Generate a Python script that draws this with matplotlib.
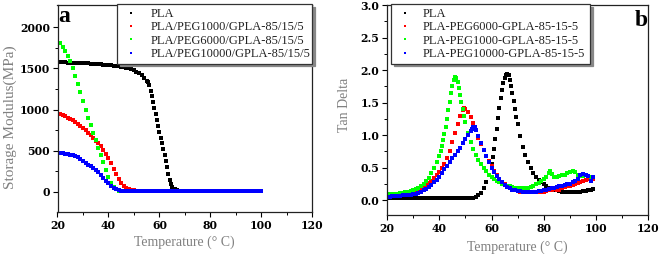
import matplotlib
matplotlib.use("Agg")
import matplotlib.pyplot as plt
import numpy as np

# ---------------- Panel a: storage modulus ----------------
T_pla_a = [20, 21, 22, 23, 24, 25, 26, 27, 28, 29, 30, 31, 32, 33, 34, 35, 36, 37, 38, 39,
           40, 41, 42, 43, 44, 45, 46, 47, 48, 49, 50, 51, 52, 53, 54, 55, 55.5, 56, 56.5, 57,
           57.5, 58, 58.5, 59, 59.5, 60, 60.5, 61, 61.5, 62, 62.5, 63, 63.5, 64, 64.5, 65, 65.5,
           66, 67, 68, 69, 70, 71, 72, 73, 74, 75, 76, 77, 78, 79, 80, 81, 82, 83, 84, 85, 86,
           87, 88, 89, 90, 91, 92, 93, 94, 95, 96, 97, 98, 99, 100]
E_pla = [1575, 1574, 1573, 1572, 1571, 1570, 1569, 1568, 1567, 1566, 1565, 1563, 1561, 1559,
         1557, 1555, 1552, 1549, 1546, 1543, 1540, 1536, 1532, 1528, 1524, 1520, 1514, 1508,
         1500, 1490, 1478, 1462, 1442, 1415, 1385, 1350, 1330, 1300, 1230, 1160, 1090, 1020,
         945, 870, 800, 730, 660, 590, 520, 450, 380, 300, 220, 150, 95, 60, 42, 32, 24, 18,
         14, 12, 11, 10, 10, 10, 9, 9, 9, 9, 9, 9, 9, 9, 9, 9, 9, 9, 9, 9, 9, 9, 9, 9, 9, 9,
         9, 9, 9, 9, 9, 9]

T_a = list(range(20, 101))
E_peg1000 = [957, 945, 932, 918, 903, 887, 868, 848, 826, 802, 776, 748, 718, 686, 655, 623,
             590, 555, 515, 465, 410, 350, 285, 220, 160, 112, 75, 50, 35, 25, 20, 16, 14, 13,
             12, 12, 11, 11, 11, 11, 10, 10, 10, 10, 10, 10, 10, 10, 10, 10, 10, 10, 10, 10,
             10, 10, 10, 10, 10, 10, 10, 10, 10, 10, 10, 10, 10, 10, 10, 10, 10, 10, 10, 10,
             10, 10, 10, 10, 10, 10, 10]
E_peg6000 = [1860, 1810, 1760, 1710, 1650, 1590, 1500, 1410, 1310, 1210, 1110, 1000, 900, 810,
             720, 630, 540, 450, 360, 265, 180, 115, 65, 35, 18, 12, 9, 8, 8, 8, 8, 8, 8, 8, 8,
             8, 8, 8, 8, 8, 8, 8, 8, 8, 8, 8, 8, 8, 8, 8, 8, 8, 8, 8, 8, 8, 8, 8, 8, 8, 8, 8,
             8, 8, 8, 8, 8, 8, 8, 8, 8, 8, 8, 8, 8, 8, 8, 8, 8, 8, 8]
E_peg10000 = [475, 472, 468, 464, 460, 455, 448, 438, 425, 405, 380, 355, 330, 310, 290, 265,
              240, 205, 170, 135, 105, 75, 52, 35, 22, 15, 11, 8, 7, 6, 6, 6, 6, 6, 6, 6, 6,
              6, 6, 6, 6, 6, 6, 6, 6, 6, 6, 6, 6, 6, 6, 6, 6, 6, 6, 6, 6, 6, 6, 6, 6, 6, 6, 6,
              6, 6, 6, 6, 6, 6, 6, 6, 6, 6, 6, 6, 6, 6, 6, 6, 6]

labels_a = ["PLA", "PLA/PEG1000/GPLA-85/15/5", "PLA/PEG6000/GPLA-85/15/5",
            "PLA/PEG10000/GPLA-85/15/5"]

# ---------------- Panel b: tan delta ----------------
T_pla_b = list(range(20, 60)) + [60, 60.5, 61, 61.5, 62, 62.5, 63, 63.5, 64, 64.5, 65, 65.5,
                                 66, 66.5, 67, 67.5, 68, 68.5, 69, 69.5, 70] + list(range(71, 100))
tan_pla = [0.03] * 33 + [0.035, 0.045, 0.07, 0.11, 0.18, 0.27, 0.39] + \
          [0.55, 0.66, 0.79, 0.94, 1.10, 1.26, 1.42, 1.57, 1.70, 1.80, 1.87, 1.92, 1.94, 1.92,
           1.85, 1.76, 1.64, 1.52, 1.40, 1.28, 1.17] + \
          [0.98, 0.82, 0.69, 0.58, 0.49, 0.42, 0.36, 0.31, 0.27, 0.24, 0.21, 0.19, 0.17, 0.16,
           0.15, 0.14, 0.13, 0.125, 0.12, 0.12, 0.12, 0.125, 0.13, 0.13, 0.135, 0.14, 0.15,
           0.16, 0.17]

T_red_b = list(range(20, 50)) + [49.5] + list(range(50, 100))
tan_peg6000 = [0.07, 0.07, 0.075, 0.08, 0.085, 0.09, 0.095, 0.10, 0.11, 0.115, 0.12, 0.14,
               0.16, 0.18, 0.20, 0.23, 0.26, 0.30, 0.34, 0.38, 0.43, 0.49, 0.56, 0.65, 0.76,
               0.89, 1.03, 1.17, 1.29, 1.38, 1.41, 1.40, 1.36, 1.28, 1.18, 1.07, 0.96, 0.86,
               0.77, 0.68, 0.60, 0.52, 0.45, 0.39, 0.33, 0.28, 0.24, 0.21, 0.18, 0.165, 0.15,
               0.14, 0.13, 0.13, 0.125, 0.12, 0.12, 0.12, 0.12, 0.12, 0.125, 0.13, 0.14, 0.15,
               0.16, 0.17, 0.16, 0.15, 0.18, 0.20, 0.21, 0.22, 0.23, 0.24, 0.26, 0.28, 0.30,
               0.31, 0.32, 0.32, 0.33]

T_green_b = list(range(20, 40)) + [40, 40.5, 41, 41.5, 42, 42.5, 43, 43.5, 44, 44.5, 45, 45.5,
                                   46, 46.5, 47, 47.5, 48, 48.5, 49, 49.5, 50] + \
            list(range(51, 83)) + [82.5] + list(range(83, 100))
tan_peg1000 = [0.09, 0.09, 0.095, 0.10, 0.10, 0.105, 0.11, 0.12, 0.13, 0.14, 0.15, 0.17, 0.19,
               0.22, 0.25, 0.29, 0.34, 0.41, 0.49, 0.58] + \
              [0.68, 0.75, 0.83, 0.92, 1.02, 1.13, 1.25, 1.38, 1.51, 1.64, 1.76, 1.85, 1.89,
               1.88, 1.82, 1.73, 1.62, 1.51, 1.40, 1.30, 1.20] + \
              [1.03, 0.90, 0.79, 0.70, 0.62, 0.55, 0.49, 0.44, 0.39, 0.35, 0.32, 0.29, 0.27,
               0.25, 0.23, 0.22, 0.21, 0.20, 0.19, 0.185, 0.18, 0.18, 0.185, 0.19, 0.20, 0.22,
               0.24, 0.26, 0.29, 0.32, 0.36, 0.41] + [0.44] + \
              [0.40, 0.35, 0.36, 0.37, 0.38, 0.39, 0.41, 0.43, 0.45, 0.43, 0.38, 0.37, 0.37,
               0.38, 0.37, 0.36, 0.35]

T_blue_b = list(range(20, 53)) + [52.5, 53, 53.5] + list(range(54, 100))
tan_peg10000 = [0.05, 0.05, 0.055, 0.06, 0.06, 0.065, 0.07, 0.075, 0.08, 0.085, 0.09, 0.10,
                0.115, 0.13, 0.15, 0.17, 0.20, 0.23, 0.27, 0.31, 0.36, 0.41, 0.47, 0.53, 0.59,
                0.65, 0.70, 0.75, 0.80, 0.87, 0.94, 1.00, 1.06, 1.10, 1.13, 1.12, 1.07, 0.99,
                0.88, 0.77, 0.67, 0.58, 0.50, 0.43, 0.37, 0.32, 0.27, 0.23, 0.20, 0.18, 0.16,
                0.15, 0.14, 0.135, 0.13, 0.13, 0.13, 0.13, 0.13, 0.13, 0.135, 0.14, 0.15, 0.16,
                0.17, 0.18, 0.19, 0.20, 0.21, 0.22, 0.23, 0.24, 0.25, 0.27, 0.29, 0.33, 0.38,
                0.40, 0.39, 0.37, 0.30, 0.35]

labels_b = ["PLA", "PLA-PEG6000-GPLA-85-15-5", "PLA-PEG1000-GPLA-85-15-5",
            "PLA-PEG10000-GPLA-85-15-5"]

colors = ["#000000", "#ff0000", "#00ff00", "#0000ff"]

W, H = 661, 254
fig = plt.figure(figsize=(W / 100, H / 100), dpi=100)
fig.patch.set_facecolor("white")


def px(x0, y0, x1, y1):
    return [x0 / W, 1 - y1 / H, (x1 - x0) / W, (y1 - y0) / H]


tickfont = {"family": "DejaVu Serif", "weight": "bold", "size": 7.8}
labfont = {"family": "Liberation Serif", "color": "#808080"}


def style(ax):
    for s in ax.spines.values():
        s.set_linewidth(0.9)
        s.set_color("#222222")
    ax.tick_params(which="major", direction="out", length=3.5, width=0.8, top=False,
                   right=False, pad=2)
    ax.tick_params(which="minor", direction="out", length=2, width=0.7, top=False,
                   right=False)
    for lab in ax.get_xticklabels() + ax.get_yticklabels():
        lab.set_fontfamily(tickfont["family"])
        lab.set_fontweight(tickfont["weight"])
        lab.set_fontsize(tickfont["size"])


mk = dict(marker="s", ms=2.6, mew=0, linestyle="none")

# Panel a
axa = fig.add_axes(px(57.5, 5, 312.3, 212))
series_a = [(T_pla_a, E_pla), (T_a, E_peg1000), (T_a, E_peg6000), (T_a, E_peg10000)]
for (t, e), c, lab in zip(series_a, colors, labels_a):
    axa.plot(t, e, color=c, label=lab, **mk)
axa.set_xlim(20, 120)
axa.set_ylim(-243, 2270)
axa.set_xticks([20, 40, 60, 80, 100, 120])
axa.set_xticks([30, 50, 70, 90, 110], minor=True)
axa.set_yticks([0, 500, 1000, 1500, 2000])
axa.set_yticks([250, 750, 1250, 1750], minor=True)
style(axa)
lega = axa.legend(loc="upper left", bbox_to_anchor=(117 / W, 1 - 7 / H, (312.3 - 117) / W, 0.01),
                  bbox_transform=fig.transFigure, borderaxespad=0, mode="expand",
                  prop={"family": "Liberation Serif", "size": 9}, handlelength=1.6,
                  handletextpad=0.8, labelspacing=0.1, borderpad=0.3, markerscale=0.6,
                  fancybox=False, frameon=True, shadow={"color": "#888888", "alpha": 1},
                  numpoints=1)
lega.get_frame().set_edgecolor("#333333")
lega.get_frame().set_linewidth(0.9)
for t in lega.get_texts():
    t.set_color("#222222")

fig.text(10 / W, 1 - 117 / H, "Storage Modulus(MPa)", rotation=90, ha="center", va="center",
         fontsize=11, **labfont)
fig.text(184 / W, 1 - 242 / H, "Temperature (° C)", ha="center", va="center", fontsize=10,
         **labfont)
fig.text(58.5 / W, 1 - 22 / H, "a", ha="left", va="baseline", fontsize=17,
         family="Liberation Serif", weight="bold")

# Panel b
axb = fig.add_axes(px(387, 5, 648.3, 215))
series_b = [(T_pla_b, tan_pla), (T_red_b, tan_peg6000), (T_green_b, tan_peg1000),
            (T_blue_b, tan_peg10000)]
for (t, v), c, lab in zip(series_b, colors, labels_b):
    axb.plot(t, v, color=c, label=lab, **mk)
axb.set_xlim(20, 120)
axb.set_ylim(-0.23, 3.0)
axb.set_xticks([20, 40, 60, 80, 100, 120])
axb.set_xticks([30, 50, 70, 90, 110], minor=True)
axb.set_yticks([0.0, 0.5, 1.0, 1.5, 2.0, 2.5, 3.0])
axb.set_yticks([0.25, 0.75, 1.25, 1.75, 2.25, 2.75], minor=True)
axb.yaxis.set_major_formatter(matplotlib.ticker.FormatStrFormatter("%.1f"))
style(axb)
legb = axb.legend(loc="upper left", bbox_to_anchor=(391 / W, 1 - 7 / H, (590 - 391) / W, 0.01),
                  bbox_transform=fig.transFigure, borderaxespad=0, mode="expand",
                  prop={"family": "Liberation Serif", "size": 9}, handlelength=1.6,
                  handletextpad=0.6, labelspacing=0.1, borderpad=0.3, markerscale=0.6,
                  fancybox=False, frameon=True, shadow={"color": "#888888", "alpha": 1},
                  numpoints=1)
legb.get_frame().set_edgecolor("#333333")
legb.get_frame().set_linewidth(0.9)
for t in legb.get_texts():
    t.set_color("#222222")

fig.text(345 / W, 1 - 105 / H, "Tan Delta", rotation=90, ha="center", va="center",
         fontsize=10, **labfont)
fig.text(517 / W, 1 - 247 / H, "Temperature (° C)", ha="center", va="center", fontsize=10,
         **labfont)
fig.text(635 / W, 1 - 26 / H, "b", ha="left", va="baseline", fontsize=17,
         family="Liberation Serif", weight="bold")

fig.savefig("out.png", dpi=100, facecolor="white")
